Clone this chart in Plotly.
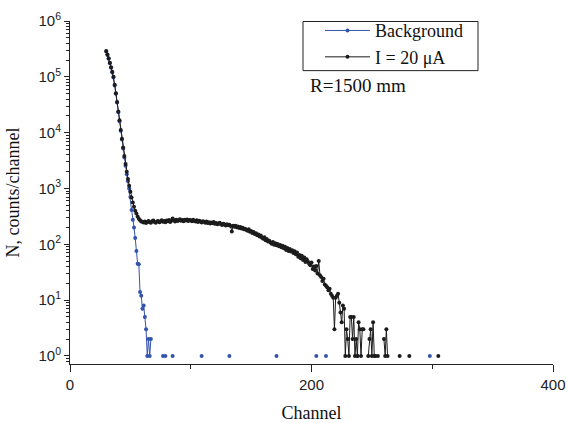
import plotly.graph_objects as go

# ---- data ----
first_channel = 30
# I = 20 uA counts per channel (None = zero counts, not drawn on log scale)
signal_counts = [
    290000, 250000, 215000, 178000, 148000, 123000, 100000, 72000, 51000, 35500,   # 30-39
    24000, 16600, 11200, 7800, 5400, 3800, 2750, 2000, 1480, 1120,                 # 40-49
    870, 690, 560, 470, 400, 355, 316, 288, 270, 257,                              # 50-59
    252, 246, 255, 241, 250, 262, 248, 244, 258, 266,                              # 60-69
    251, 243, 256, 262, 249, 257, 270, 254, 261, 248,                              # 70-79
    266, 259, 272, 251, 263, 290, 268, 257, 275, 262,                              # 80-89
    270, 282, 264, 271, 258, 276, 266, 279, 260, 272,                              # 90-99
    268, 258, 274, 262, 255, 268, 250, 263, 257, 246,                              # 100-109
    259, 252, 244, 256, 240, 249, 236, 245, 238, 250,                              # 110-119
    232, 241, 228, 236, 243, 229, 222, 234, 226, 218,                              # 120-129
    228, 219, 224, 212, 170, 215, 206, 214, 201, 208,                              # 130-139
    196, 203, 192, 198, 185, 190, 181, 174, 185, 168,                              # 140-149
    172, 160, 166, 152, 158, 145, 150, 138, 144, 131,                              # 150-159
    126, 133, 118, 124, 112, 116, 108, 102, 110, 98,                               # 160-169
    104, 96, 101, 92, 97, 88, 94, 85, 90, 79,                                      # 170-179
    86, 76, 82, 74, 78, 70, 75, 66, 71, 60,                                        # 180-189
    64, 56, 62, 52, 58, 48, 54, 49, 45, 42,                                        # 190-199
    47, 36, 40, 34, 41, 30, 50, 28, 26, 22,                                        # 200-209
    24, 19, 18, 17, 15, 16, 13, 12, 11, 3,                                         # 210-219
    11, 12, 13, 9, 6, 4, 8, 7, 1, 3,                                               # 220-229
    2, 1, 5, 5, 2, 5, 1, 2, 1, 4,                                                  # 230-239
    3, 1, 3, 3, None, None, None, 1, 2, 3,                                         # 240-249
    1, 4, 1, 1, None, 1, None, None, None, None,                                   # 250-259
    2, 1, 3, 1, None, None, None, None, None, None,                                # 260-269
    None, None, None, 1, None, None, None, None, None, None,                       # 270-279
    None, 1, None, None, None, None, None, None, None, None,                       # 280-289
    None, None, None, None, None, None, None, None, None, None,                    # 290-299
    None, None, None, None, None, 1,                                               # 300-305
]

# Background: contiguous part (channels 30-67) and isolated single counts
background_counts = [
    285000, 246000, 210000, 175000, 145000, 120000, 97000, 70000, 49500, 34500,    # 30-39
    23300, 16000, 10800, 7500, 5200, 3600, 2550, 1800, 1350, 1000,                 # 40-49
    700, 410, 275, 200, 130, 76, 45, 44, 14, 12,                                   # 50-59
    7, 8, 5, 3, 1, 2, 1, 2,                                                        # 60-67
]
background_single_channels = [77, 79, 85, 109, 132, 171, 204, 212, 238, 298]
background_single_counts = [1, 1, 1, 1, 1, 1, 1, 1, 1, 1]

y_tick_values = [1, 10, 100, 1000, 10000, 100000, 1000000]
y_tick_labels = ["10<sup>0</sup>", "10<sup>1</sup>", "10<sup>2</sup>", "10<sup>3</sup>",
                 "10<sup>4</sup>", "10<sup>5</sup>", "10<sup>6</sup>"]
x_tick_values = [0, 200, 400]

# ---- build full per-channel arrays ----
sig_x = list(range(first_channel, first_channel + len(signal_counts)))
bg_map = {first_channel + i: v for i, v in enumerate(background_counts)}
for c, v in zip(background_single_channels, background_single_counts):
    bg_map[c] = v
bg_x = list(range(first_channel, max(bg_map) + 1))
bg_y = [bg_map.get(c) for c in bg_x]

BLUE = "#3453ad"
BLACK = "#1c1c1c"

# the page body margin is removed (see post_script), figure fills the window
W, H = 568, 423
# plot area in window pixels: x 70..553, y 12..364.5
PL, PR, PT, PB = 70, 553, 12, 364.5
ML, MR, MT, MB = PL, W - PR, PT, H - PB
PW, PH = PR - PL, PB - PT


def px_to_paper(x, y):
    """window pixel -> paper coordinates"""
    return (x - PL) / PW, (PB - y) / PH


fig = go.Figure()
fig.add_trace(go.Scatter(
    x=bg_x, y=bg_y, mode="lines+markers", name="Background",
    line=dict(color=BLUE, width=1), marker=dict(color=BLUE, size=4),
    connectgaps=False,
))
fig.add_trace(go.Scatter(
    x=sig_x, y=signal_counts, mode="lines+markers", name="I = 20 μA",
    line=dict(color=BLACK, width=1), marker=dict(color=BLACK, size=4),
    connectgaps=False,
))

lx0, ly0 = px_to_paper(303, 12.5)
lx1, ly1 = px_to_paper(478, 63)
ax, ay = px_to_paper(308, 78)

fig.update_layout(
    width=W, height=H,
    margin=dict(l=ML, r=MR, t=MT, b=MB),
    paper_bgcolor="white", plot_bgcolor="white",
    showlegend=True,
    legend=dict(
        x=px_to_paper(320, 0)[0], y=px_to_paper(0, 3)[1], xanchor="left", yanchor="top",
        bgcolor="rgba(0,0,0,0)", borderwidth=0,
        font=dict(family="Liberation Serif", size=18, color="#111"),
        itemwidth=45,
        tracegroupgap=0,
    ),
    shapes=[dict(
        type="rect", xref="paper", yref="paper",
        x0=lx0, x1=lx1, y0=ly1, y1=ly0,
        line=dict(color="#222", width=1), fillcolor="rgba(0,0,0,0)",
    )],
    annotations=[dict(
        x=ax, y=ay, xref="paper", yref="paper",
        xanchor="left", yanchor="middle", showarrow=False,
        text="R=1500 mm",
        font=dict(family="Liberation Serif", size=19, color="#111"),
    )],
)

fig.update_xaxes(
    range=[0, 400], automargin=False,
    tickvals=x_tick_values,
    ticks="outside", ticklen=7, tickwidth=1, tickcolor="#222",
    minor=dict(dtick=100, ticks="outside", ticklen=4, tickwidth=1, tickcolor="#222"),
    showline=True, linecolor="#222", linewidth=1,
    showgrid=False, zeroline=False,
    ticklabeloverflow="allow",
    tickfont=dict(family="Liberation Sans", size=15, color="#222"),
    title=dict(text="Channel", font=dict(family="Liberation Serif", size=18, color="#111"),
               standoff=16),
)
fig.update_yaxes(
    type="log", range=[-0.145, 6], automargin=False,
    tickvals=y_tick_values, ticktext=y_tick_labels,
    ticks="outside", ticklen=5, tickwidth=1, tickcolor="#222",
    minor=dict(dtick="D1", ticks="outside", ticklen=3, tickwidth=1, tickcolor="#222"),
    showline=True, linecolor="#222", linewidth=1,
    showgrid=False, zeroline=False,
    ticklabeloverflow="allow",
    tickfont=dict(family="Liberation Sans", size=15, color="#222"),
    title=dict(text="N, counts/channel", font=dict(family="Liberation Serif", size=18, color="#111"),
               standoff=14),
)

fig.write_html(
    "out.html",
    config={"displayModeBar": False},
    post_script="document.body.style.margin='0';document.body.style.padding='0';",
)
